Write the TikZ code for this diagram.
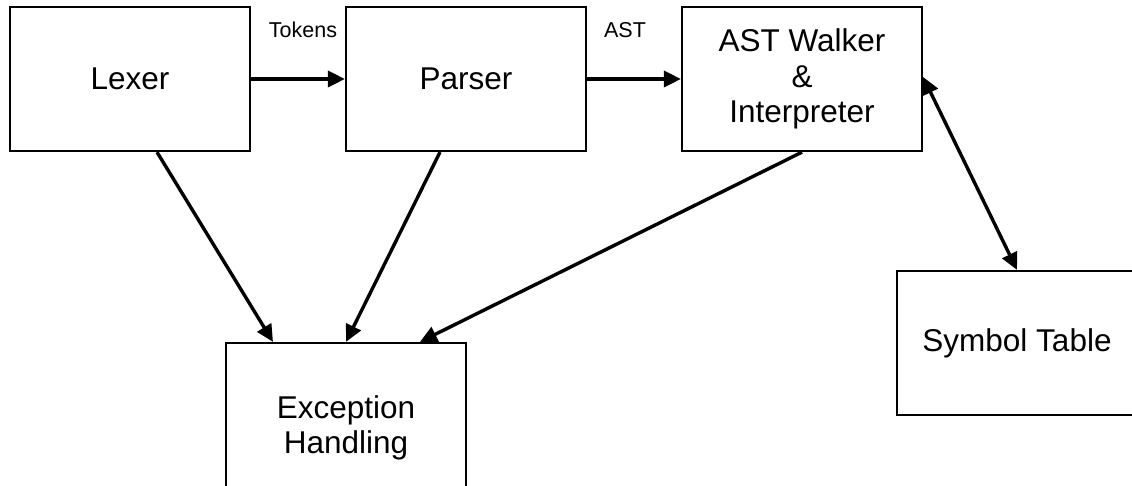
\documentclass[tikz,border=0pt]{standalone}
\usepackage{fontspec}
\setmainfont{Liberation Sans}
\usetikzlibrary{arrows.meta}
\begin{document}
\begin{tikzpicture}[x=1pt,y=-1pt,
  blockbox/.style={draw=black, line width=2.2pt, rectangle, minimum width=240pt, inner sep=0pt, align=center, font=\fontsize{31.5}{35.5}\selectfont},
  flow/.style={line width=3.4pt, -{Triangle[length=17pt,width=16pt]}},
  flowboth/.style={line width=3.4pt, {Triangle[length=17pt,width=16pt]}-{Triangle[length=17pt,width=16pt]}},
  lbl/.style={font=\fontsize{21.5}{25}\selectfont, inner sep=0pt}]
\useasboundingbox (0,0) rectangle (1132,485);
\clip (0,0) rectangle (1132,485);
\node[blockbox, minimum height=144pt] (lexer) at (130,79) {Lexer};
\node[blockbox, minimum height=144pt] (parser) at (466,79) {Parser};
\node[blockbox, minimum height=144pt] (ast) at (802,79) {AST Walker\\\&\\Interpreter};
\node[blockbox, minimum height=170pt] (exc) at (346,428) {Exception\\Handling};
\node[blockbox, minimum height=144pt] (sym) at (1017,343) {Symbol Table};
\node[lbl] (tok) at (303,30) {Tokens};
\node[lbl] (astl) at (625,30) {AST};
\draw[flow] (lexer.east) -- (parser.west);
\draw[flow] (parser.east) -- (ast.west);
\draw[flow] ([xshift=27pt]lexer.south) -- ([xshift=-73pt]exc.north);
\draw[flow] ([xshift=-26pt]parser.south) -- (exc.north);
\draw[flow] (ast.south) -- ([xshift=74pt]exc.north);
\draw[flowboth] ([yshift=2pt]ast.east) -- (sym.north);
\end{tikzpicture}
\end{document}
